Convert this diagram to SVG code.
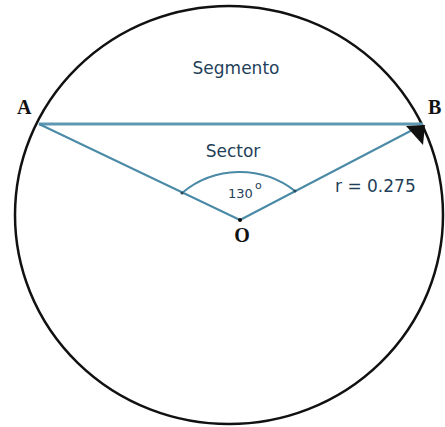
<svg xmlns="http://www.w3.org/2000/svg" width="445" height="427" viewBox="0 0 445 427">
<style>
.lbl{font-family:"DejaVu Sans","Liberation Sans",sans-serif;fill:#1f3f5a}
.pt{font-family:"Liberation Serif","DejaVu Serif",serif;font-weight:bold;font-size:20px;fill:#111}
.rad{stroke:#4a8aa6;stroke-width:2;fill:none}
</style>
<rect width="445" height="427" fill="#fff"/>
<g id="circle"><ellipse cx="229" cy="215" rx="214" ry="209" fill="none" stroke="#111" stroke-width="2.5"/></g>
<g id="connectors">
<line x1="39" y1="124" x2="423" y2="124" stroke="#5f98b2" stroke-width="3"/>
<line class="rad" x1="39" y1="124" x2="240" y2="220"/>
<line class="rad" x1="240" y1="220" x2="420" y2="126"/>
<path class="rad" d="M182,193 A90 90 0 0 1 295,191"/>
<polygon points="406,126 425,125 423,145" fill="#111"/>
<circle cx="182" cy="193" r="1.5" fill="#2a4a5a"/>
<circle cx="295" cy="191" r="1.5" fill="#2a4a5a"/>
<circle cx="240" cy="220" r="2" fill="#111"/>
</g>
<g id="labels">
<text class="lbl" x="236" y="74" font-size="17" text-anchor="middle">Segmento</text>
<text class="lbl" x="233" y="157" font-size="17" text-anchor="middle">Sector</text>
<text class="lbl" x="228" y="198" font-size="13">130</text>
<text class="lbl" x="255" y="189" font-size="11">o</text>
<text class="lbl" x="335" y="192" font-size="17">r = 0.275</text>
</g>
<g id="A"><text class="pt" x="17" y="114">A</text></g>
<g id="B"><text class="pt" x="428" y="114">B</text></g>
<g id="O"><text class="pt" x="242" y="242" text-anchor="middle">O</text></g>
</svg>
